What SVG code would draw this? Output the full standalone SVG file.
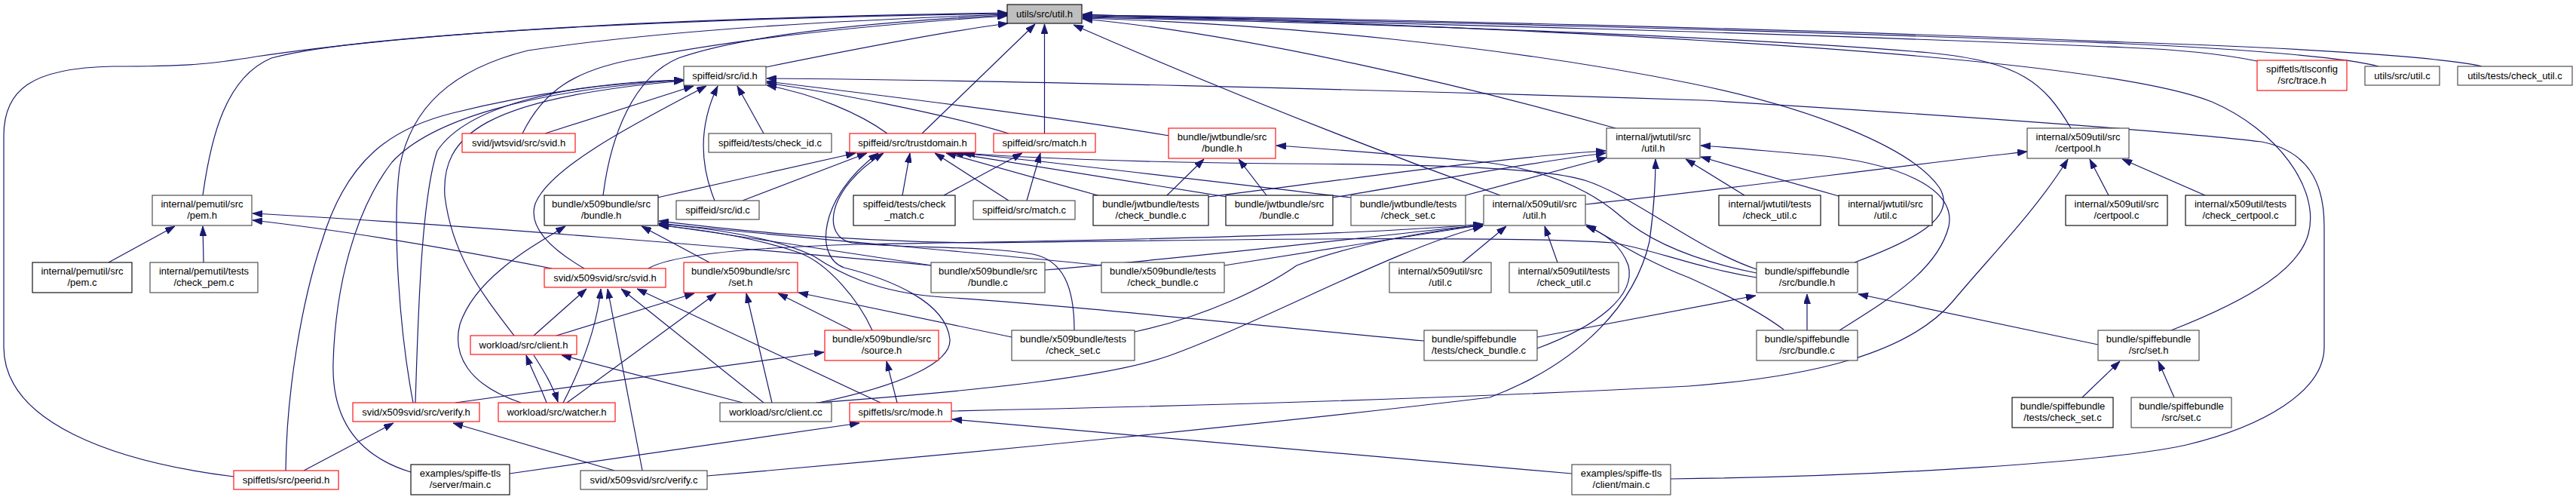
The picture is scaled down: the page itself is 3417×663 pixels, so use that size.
<svg xmlns="http://www.w3.org/2000/svg" width="3417" height="663" viewBox="0 0 3417 663">
<style>
.b{fill:#fff;stroke:#000;stroke-width:1.1}
.g{stroke:#404040}
.r{stroke:#ff0000}
.root{fill:#bfbfbf}
text{font-family:"Liberation Sans",Arial,Helvetica,sans-serif;font-size:13px;fill:#000;text-anchor:middle}
text.l{text-anchor:start}
.e{fill:none;stroke:#191970;stroke-width:1.2;marker-end:url(#arr)}
</style>
<defs>
<marker id="arr" viewBox="0 0 13 9" refX="13" refY="4.5" markerWidth="13" markerHeight="9" markerUnits="userSpaceOnUse" orient="auto"><path d="M0,0 L13,4.5 L0,9 Z" fill="#191970" stroke="#191970" stroke-width="0.8"/></marker>
</defs>
<rect width="3417" height="663" fill="#fff"/>
<g id="edges">
<path class="e" d="M1016,89 C1100,72 1250,42 1337,31"/>
<path class="e" d="M1223,177 L1373,32"/>
<path class="e" d="M1385.5,177 L1385.5,32"/>
<path class="e" d="M1990,259 C1800,190 1600,110 1424,33"/>
<path class="e" d="M2143,170 C1950,115 1650,45 1436,25"/>
<path class="e" d="M2747,170 C2712,110 2680,82 2560,70 C2300,48 1800,30 1436,23"/>
<path class="e" d="M2994,81 C2950,72 2900,66 2820,63 C2400,45 1800,28 1436,22"/>
<path class="e" d="M3155,88 C3120,78 3000,66 2820,58 C2400,41 1800,26 1436,21"/>
<path class="e" d="M3292,88 C3250,78 3100,65 2820,56 C2400,39 1800,24 1436,20"/>
<path class="e" d="M2460,348 C2530,322 2600,290 2572,248 C2535,195 2400,142 2240,110 C2000,62 1700,32 1436,24"/>
<path class="e" d="M2880,438 C2990,395 3050,355 3062,310 C3078,250 3020,172 2934,135 C2820,90 2400,48 1436,19"/>
<path class="e" d="M310,632 C150,612 5,560 5,460 L5,180 C5,120 40,90 150,88 C250,88 280,85 340,75 C600,36 1000,22 1336,17"/>
<path class="e" d="M269,259 C280,180 300,102 360,77 C500,40 1000,23 1336,18"/>
<path class="e" d="M800,259 C810,180 840,102 900,77 C1000,42 1200,27 1336,20"/>
<path class="e" d="M693,177 C720,122 760,92 850,77 C1000,47 1200,30 1336,21"/>
<path class="e" d="M548,534 C530,440 520,300 530,222 C545,142 600,92 700,67 C900,37 1150,26 1336,19"/>
<path class="e" d="M1177,177 C1140,150 1080,125 1017,113"/>
<path class="e" d="M1338,177 C1250,150 1100,122 1017,110"/>
<path class="e" d="M1551,180 C1400,155 1150,124 1017,108"/>
<path class="e" d="M1013,177 L978,114"/>
<path class="e" d="M948,266 C925,210 930,160 952,114"/>
<path class="e" d="M723,177 L920,114"/>
<path class="e" d="M775,356 C730,330 700,300 710,270 C730,220 850,160 937,114"/>
<path class="e" d="M682,445 C640,390 600,340 590,260 C585,180 640,130 907,107"/>
<path class="e" d="M551,534 C555,400 560,260 580,200 C620,140 750,110 907,106"/>
<path class="e" d="M379,624 C380,520 400,400 427,320 C460,210 520,170 600,150 C700,125 800,110 907,106"/>
<path class="e" d="M545,626 C460,600 440,540 442,480 C445,380 470,280 520,215 C570,160 700,120 907,106"/>
<path class="e" d="M2216,635 C2500,632 2800,612 2900,590 C3000,566 3083,520 3083,460 L3083,300 C3083,240 3060,200 3000,188 C2900,176 2700,160 2260,133 C1800,118 1300,106 1017,104"/>
<path class="e" d="M872,262 L1135,203"/>
<path class="e" d="M985,266 L1150,203"/>
<path class="e" d="M1197,259 L1207,203"/>
<path class="e" d="M1338,266 L1240,203"/>
<path class="e" d="M1456,259 L1255,203"/>
<path class="e" d="M1627,261 L1265,203"/>
<path class="e" d="M1792,262 C1600,240 1400,215 1275,203"/>
<path class="e" d="M2330,357 C2250,330 2170,262 2105,240 C2050,222 1900,218 1700,217 C1500,215 1350,209 1280,203"/>
<path class="e" d="M1086,534 C1200,510 1262,480 1260,450 C1255,400 1180,370 1120,355 C1080,342 1085,262 1165,203"/>
<path class="e" d="M1425,438 C1425,380 1410,345 1370,337 C1300,325 1200,330 1130,322 C1090,314 1095,252 1172,203"/>
<path class="e" d="M1252,259 L1356,203"/>
<path class="e" d="M1362,266 L1380,203"/>
<path class="e" d="M1548,259 L1597,211"/>
<path class="e" d="M1680,259 L1643,211"/>
<path class="e" d="M2330,362 C2250,346 2190,322 2150,287 C2110,252 2050,222 1950,213 C1850,205 1760,197 1693,193"/>
<path class="e" d="M1603,261 C1800,236 2000,208 2130,200"/>
<path class="e" d="M1768,262 C1900,240 2050,212 2130,203"/>
<path class="e" d="M1944,259 L2131,209"/>
<path class="e" d="M2314,259 L2236,211"/>
<path class="e" d="M2439,260 L2256,208"/>
<path class="e" d="M938,631 C1300,600 1700,560 1976,527 C2100,480 2170,400 2188,320 C2195,270 2196,240 2196,211"/>
<path class="e" d="M2440,438 C2500,400 2570,360 2585,300 C2595,250 2520,215 2400,205 C2330,199 2290,195 2256,193"/>
<path class="e" d="M2103,271 C2300,250 2500,222 2689,201"/>
<path class="e" d="M2797,259 L2772,211"/>
<path class="e" d="M2925,259 L2815,211"/>
<path class="e" d="M1262,545 C1500,540 1900,530 2240,512 C2400,500 2530,470 2590,400 C2640,340 2700,280 2743,211"/>
<path class="e" d="M144,348 L232,300"/>
<path class="e" d="M270,348 L269,300"/>
<path class="e" d="M732,356 C600,330 450,305 335,292"/>
<path class="e" d="M1235,352 C1000,330 600,297 335,283"/>
<path class="e" d="M941,348 L851,300"/>
<path class="e" d="M691,534 C620,510 600,470 610,430 C630,370 700,330 750,300"/>
<path class="e" d="M1236,352 C1100,332 950,308 874,298"/>
<path class="e" d="M1461,352 C1300,335 1000,310 874,296"/>
<path class="e" d="M1157,438 C1140,400 1100,350 1060,335 C990,312 920,303 874,299"/>
<path class="e" d="M2330,368 C2250,355 2190,330 2140,322 C2000,312 1600,318 1300,322 C1100,320 950,302 874,293"/>
<path class="e" d="M1889,452 C1650,430 1420,405 1250,394 C1160,388 1110,360 1080,340 C1030,315 940,302 874,297"/>
<path class="e" d="M708,445 L778,383"/>
<path class="e" d="M747,534 C775,480 792,430 797,383"/>
<path class="e" d="M1013,534 L824,383"/>
<path class="e" d="M852,624 L806,383"/>
<path class="e" d="M1168,534 L845,383"/>
<path class="e" d="M738,445 L921,389"/>
<path class="e" d="M752,534 L950,389"/>
<path class="e" d="M1024,534 L990,389"/>
<path class="e" d="M1130,438 L1032,389"/>
<path class="e" d="M1342,447 L1059,388"/>
<path class="e" d="M725,534 C716,510 705,490 698,471"/>
<path class="e" d="M708,471 C720,490 733,510 740,533"/>
<path class="e" d="M985,534 L745,471"/>
<path class="e" d="M815,624 L601,561"/>
<path class="e" d="M403,624 L522,561"/>
<path class="e" d="M1190,534 L1176,479"/>
<path class="e" d="M604,534 L1093,467"/>
<path class="e" d="M676,628 L1140,561"/>
<path class="e" d="M2085,628 L1263,556"/>
<path class="e" d="M1940,348 L1998,300"/>
<path class="e" d="M2066,348 L2049,300"/>
<path class="e" d="M1386,358 C1600,340 1850,310 1967,298"/>
<path class="e" d="M1624,352 L1967,298"/>
<path class="e" d="M1505,440 C1600,420 1680,380 1720,352 C1800,322 1900,305 1967,299"/>
<path class="e" d="M1082,534 C1300,518 1470,500 1550,472 C1680,425 1850,330 1967,300"/>
<path class="e" d="M860,356 C890,338 1000,328 1140,324 C1500,318 1800,312 1967,297"/>
<path class="e" d="M2039,462 C2120,432 2170,392 2160,352 C2150,325 2130,310 2104,300"/>
<path class="e" d="M2366,437 C2330,410 2280,386 2240,368 C2180,345 2140,318 2104,298"/>
<path class="e" d="M2039,447 L2329,392"/>
<path class="e" d="M2397,438 L2397,390"/>
<path class="e" d="M2783,457 L2465,390"/>
<path class="e" d="M2762,527 L2812,479"/>
<path class="e" d="M2884,527 L2863,479"/>
</g>
<g id="n_root"><rect class="b root" x="1336" y="6" width="99" height="25"/><text x="1385.5" y="23">utils/src/util.h</text></g>
<g id="n_id_h"><rect class="b g" x="907" y="88" width="109" height="25"/><text x="961.5" y="105">spiffeid/src/id.h</text></g>
<g id="n_trace_h"><rect class="b r" x="2994" y="80" width="119" height="40"/><text x="3053.5" y="96">spiffetls/tlsconfig</text><text x="3053.5" y="111">/src/trace.h</text></g>
<g id="n_utils_util_c"><rect class="b g" x="3137" y="88" width="99" height="25"/><text x="3186.5" y="105">utils/src/util.c</text></g>
<g id="n_utils_check_util_c"><rect class="b g" x="3260" y="88" width="152" height="25"/><text x="3336" y="105">utils/tests/check_util.c</text></g>
<g id="n_jwtsvid_svid_h"><rect class="b r" x="613" y="177" width="150" height="25"/><text x="688" y="194">svid/jwtsvid/src/svid.h</text></g>
<g id="n_check_id_c"><rect class="b g" x="940" y="177" width="163" height="25"/><text x="1021.5" y="194">spiffeid/tests/check_id.c</text></g>
<g id="n_trustdomain_h"><rect class="b r" x="1127" y="177" width="167" height="25"/><text x="1210.5" y="194">spiffeid/src/trustdomain.h</text></g>
<g id="n_match_h"><rect class="b r" x="1318" y="177" width="135" height="25"/><text x="1385.5" y="194">spiffeid/src/match.h</text></g>
<g id="n_jwtbundle_bundle_h"><rect class="b r" x="1550" y="170" width="142" height="40"/><text x="1621" y="186">bundle/jwtbundle/src</text><text x="1621" y="201">/bundle.h</text></g>
<g id="n_jwtutil_util_h"><rect class="b g" x="2131" y="170" width="124" height="40"/><text x="2193" y="186">internal/jwtutil/src</text><text x="2193" y="201">/util.h</text></g>
<g id="n_certpool_h"><rect class="b g" x="2689" y="170" width="135" height="40"/><text x="2756.5" y="186">internal/x509util/src</text><text x="2756.5" y="201">/certpool.h</text></g>
<g id="n_pem_h"><rect class="b g" x="202" y="259" width="132" height="40"/><text x="268" y="275">internal/pemutil/src</text><text x="268" y="290">/pem.h</text></g>
<g id="n_x509bundle_bundle_h"><rect class="b" x="722" y="259" width="151" height="40"/><text x="797.5" y="275">bundle/x509bundle/src</text><text x="797.5" y="290">/bundle.h</text></g>
<g id="n_id_c"><rect class="b g" x="897" y="266" width="110" height="25"/><text x="952" y="283">spiffeid/src/id.c</text></g>
<g id="n_check_match_c"><rect class="b" x="1132" y="259" width="135" height="40"/><text x="1199.5" y="275">spiffeid/tests/check</text><text x="1199.5" y="290">_match.c</text></g>
<g id="n_match_c"><rect class="b g" x="1291" y="266" width="135" height="25"/><text x="1358.5" y="283">spiffeid/src/match.c</text></g>
<g id="n_jwt_check_bundle_c"><rect class="b" x="1450" y="259" width="153" height="40"/><text x="1526.5" y="275">bundle/jwtbundle/tests</text><text x="1526.5" y="290">/check_bundle.c</text></g>
<g id="n_jwt_bundle_c"><rect class="b" x="1626" y="259" width="142" height="40"/><text x="1697" y="275">bundle/jwtbundle/src</text><text x="1697" y="290">/bundle.c</text></g>
<g id="n_jwt_check_set_c"><rect class="b g" x="1792" y="259" width="152" height="40"/><text x="1868" y="275">bundle/jwtbundle/tests</text><text x="1868" y="290">/check_set.c</text></g>
<g id="n_x509util_util_h"><rect class="b g" x="1968" y="259" width="135" height="40"/><text x="2035.5" y="275">internal/x509util/src</text><text x="2035.5" y="290">/util.h</text></g>
<g id="n_jwtutil_check_util_c"><rect class="b" x="2280" y="259" width="135" height="40"/><text x="2347.5" y="275">internal/jwtutil/tests</text><text x="2347.5" y="290">/check_util.c</text></g>
<g id="n_jwtutil_util_c"><rect class="b" x="2439" y="259" width="124" height="40"/><text x="2501" y="275">internal/jwtutil/src</text><text x="2501" y="290">/util.c</text></g>
<g id="n_certpool_c"><rect class="b" x="2740" y="259" width="135" height="40"/><text x="2807.5" y="275">internal/x509util/src</text><text x="2807.5" y="290">/certpool.c</text></g>
<g id="n_check_certpool_c"><rect class="b" x="2899" y="259" width="146" height="40"/><text x="2972" y="275">internal/x509util/tests</text><text x="2972" y="290">/check_certpool.c</text></g>
<g id="n_pem_c"><rect class="b" x="43" y="348" width="132" height="40"/><text x="109" y="364">internal/pemutil/src</text><text x="109" y="379">/pem.c</text></g>
<g id="n_check_pem_c"><rect class="b g" x="199" y="348" width="143" height="40"/><text x="270.5" y="364">internal/pemutil/tests</text><text x="270.5" y="379">/check_pem.c</text></g>
<g id="n_x509svid_svid_h"><rect class="b r" x="722" y="356" width="161" height="25"/><text x="802.5" y="373">svid/x509svid/src/svid.h</text></g>
<g id="n_x509bundle_set_h"><rect class="b r" x="907" y="348" width="151" height="40"/><text x="982.5" y="364">bundle/x509bundle/src</text><text x="982.5" y="379">/set.h</text></g>
<g id="n_x509bundle_bundle_c"><rect class="b g" x="1235" y="348" width="151" height="40"/><text x="1310.5" y="364">bundle/x509bundle/src</text><text x="1310.5" y="379">/bundle.c</text></g>
<g id="n_x509_check_bundle_c"><rect class="b g" x="1461" y="348" width="163" height="40"/><text x="1542.5" y="364">bundle/x509bundle/tests</text><text x="1542.5" y="379">/check_bundle.c</text></g>
<g id="n_x509util_util_c"><rect class="b g" x="1843" y="348" width="135" height="40"/><text x="1910.5" y="364">internal/x509util/src</text><text x="1910.5" y="379">/util.c</text></g>
<g id="n_x509util_check_util_c"><rect class="b g" x="2002" y="348" width="145" height="40"/><text x="2074.5" y="364">internal/x509util/tests</text><text x="2074.5" y="379">/check_util.c</text></g>
<g id="n_spiffebundle_bundle_h"><rect class="b g" x="2330" y="348" width="134" height="40"/><text x="2397" y="364">bundle/spiffebundle</text><text x="2397" y="379">/src/bundle.h</text></g>
<g id="n_client_h"><rect class="b r" x="624" y="445" width="141" height="25"/><text x="694.5" y="462">workload/src/client.h</text></g>
<g id="n_source_h"><rect class="b r" x="1094" y="438" width="151" height="40"/><text x="1169.5" y="454">bundle/x509bundle/src</text><text x="1169.5" y="469">/source.h</text></g>
<g id="n_x509_check_set_c"><rect class="b g" x="1342" y="438" width="163" height="40"/><text x="1423.5" y="454">bundle/x509bundle/tests</text><text x="1423.5" y="469">/check_set.c</text></g>
<g id="n_spiffe_check_bundle_c"><rect class="b g" x="1889" y="438" width="150" height="40"/><text class="l" x="1899" y="454">bundle/spiffebundle</text><text class="l" x="1899" y="469">/tests/check_bundle.c</text></g>
<g id="n_spiffebundle_bundle_c"><rect class="b g" x="2330" y="438" width="134" height="40"/><text x="2397" y="454">bundle/spiffebundle</text><text x="2397" y="469">/src/bundle.c</text></g>
<g id="n_spiffebundle_set_h"><rect class="b g" x="2783" y="438" width="134" height="40"/><text x="2850" y="454">bundle/spiffebundle</text><text x="2850" y="469">/src/set.h</text></g>
<g id="n_verify_h"><rect class="b r" x="468" y="534" width="168" height="25"/><text x="552" y="551">svid/x509svid/src/verify.h</text></g>
<g id="n_watcher_h"><rect class="b r" x="661" y="534" width="155" height="25"/><text x="738.5" y="551">workload/src/watcher.h</text></g>
<g id="n_client_cc"><rect class="b g" x="955" y="534" width="148" height="25"/><text x="1029" y="551">workload/src/client.cc</text></g>
<g id="n_mode_h"><rect class="b r" x="1127" y="534" width="135" height="25"/><text x="1194.5" y="551">spiffetls/src/mode.h</text></g>
<g id="n_spiffe_check_set_c"><rect class="b" x="2669" y="527" width="134" height="40"/><text x="2736" y="543">bundle/spiffebundle</text><text x="2736" y="558">/tests/check_set.c</text></g>
<g id="n_spiffebundle_set_c"><rect class="b g" x="2827" y="527" width="133" height="40"/><text x="2893.5" y="543">bundle/spiffebundle</text><text x="2893.5" y="558">/src/set.c</text></g>
<g id="n_peerid_h"><rect class="b r" x="310" y="624" width="139" height="25"/><text x="379.5" y="641">spiffetls/src/peerid.h</text></g>
<g id="n_server_main_c"><rect class="b" x="545" y="616" width="131" height="40"/><text x="610.5" y="632">examples/spiffe-tls</text><text x="610.5" y="647">/server/main.c</text></g>
<g id="n_verify_c"><rect class="b g" x="770" y="624" width="168" height="25"/><text x="854" y="641">svid/x509svid/src/verify.c</text></g>
<g id="n_client_main_c"><rect class="b g" x="2085" y="616" width="131" height="40"/><text x="2150.5" y="632">examples/spiffe-tls</text><text x="2150.5" y="647">/client/main.c</text></g>
</svg>
